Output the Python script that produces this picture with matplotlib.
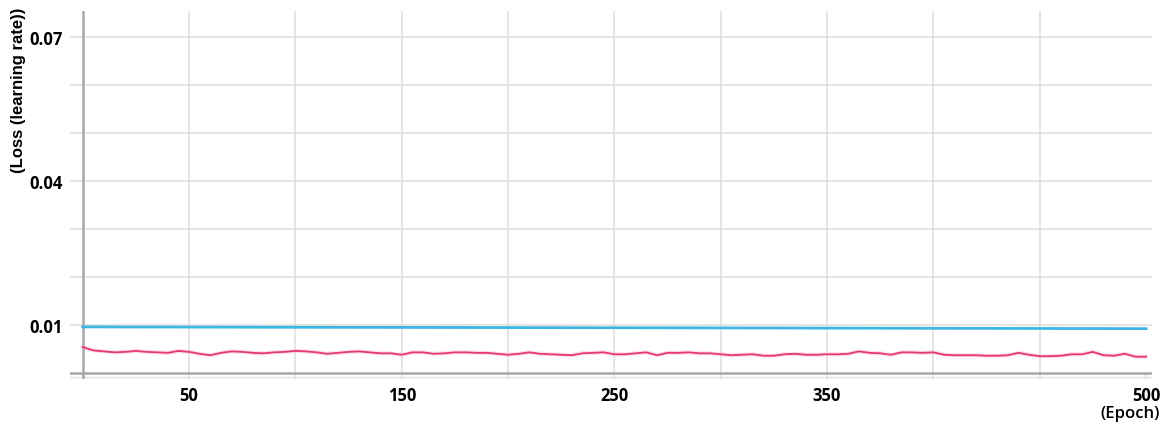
import numpy as np
import matplotlib.pyplot as plt

# epochs sampled every 5
epochs = list(range(0, 505, 5))

# training loss (smoothed curve)
loss = [
    0.0054, 0.0047, 0.0045, 0.0043, 0.0044, 0.0046, 0.0044, 0.0043, 0.0042, 0.0046,
    0.0044, 0.0040, 0.0037, 0.0042, 0.0045, 0.0044, 0.0042, 0.0041, 0.0043, 0.0044,
    0.0046, 0.0045, 0.0043, 0.0040, 0.0042, 0.0044, 0.0045, 0.0043, 0.0041, 0.0041,
    0.0038, 0.0043, 0.0043, 0.0040, 0.0041, 0.0043, 0.0043, 0.0042, 0.0042, 0.0040,
    0.0038, 0.0040, 0.0043, 0.0040, 0.0039, 0.0038, 0.0037, 0.0041, 0.0042, 0.0043,
    0.0039, 0.0039, 0.0041, 0.0043, 0.0037, 0.0042, 0.0042, 0.0043, 0.0041, 0.0041,
    0.0039, 0.0037, 0.0038, 0.0039, 0.0036, 0.0036, 0.0039, 0.0040, 0.0038, 0.0038,
    0.0039, 0.0039, 0.0040, 0.0045, 0.0042, 0.0041, 0.0038, 0.0043, 0.0043, 0.0042,
    0.0043, 0.0038, 0.0037, 0.0037, 0.0037, 0.0036, 0.0036, 0.0037, 0.0042, 0.0038,
    0.0035, 0.0035, 0.0036, 0.0039, 0.0039, 0.0044, 0.0037, 0.0036, 0.0040, 0.0034,
    0.0034,
]

# learning rate, decaying slowly
lr_epochs = [0, 100, 200, 300, 400, 500]
lr = [0.00960, 0.00953, 0.00946, 0.00939, 0.00931, 0.00924]

ytick_vals = [0.07, 0.04, 0.01]
ytick_labels = ['0.07', '0.04', '0.01']
xtick_vals = [50, 150, 250, 350, 500]
xtick_labels = ['50', '150', '250', '350', '500']

fig = plt.figure(figsize=(11.72, 4.27), dpi=100)
ax = fig.add_axes([70 / 1172, 1 - 380 / 427, 1082 / 1172, 368 / 427])
ax.set_xlim(-6, 502.8)
ax.set_ylim(-0.00125, 0.0754)

for s in ax.spines.values():
    s.set_visible(False)

# light grid
for yv in np.arange(0.01, 0.075, 0.01):
    ax.axhline(yv, color='#dedede', lw=1.1, zorder=0)
for xv in range(50, 500, 50):
    ax.axvline(xv, color='#dedede', lw=1.1, zorder=0)
ax.plot([500, 500], [-0.00125, -0.0002], color='#dedede', lw=1.1, zorder=0)

# darker axis lines
ax.axhline(0, color='#a8a8a8', lw=1.8, zorder=1)
ax.axhline(-0.0009, color='#e2e2e2', lw=1.0, zorder=1)
ax.axvline(0, color='#a8a8a8', lw=1.8, zorder=1)

ax.plot(lr_epochs, lr, color='#3cb6e3', lw=2, zorder=3)
ax.plot(epochs, loss, color='#f4a6bd', lw=3, alpha=0.35, zorder=2)
ax.plot(epochs, loss, color='#e6396c', lw=1.3, zorder=3)

ax.tick_params(length=0)
ax.tick_params(axis='y', pad=5)
ax.tick_params(axis='x', pad=5)
ax.set_yticks(ytick_vals)
ax.set_yticklabels(ytick_labels, fontsize=12, fontweight='bold', family='Open Sans')
ax.set_xticks(xtick_vals)
ax.set_xticklabels(xtick_labels, fontsize=12, fontweight='bold', family='Open Sans')

fig.text(1130 / 1172, 1 - 414 / 427, '(Epoch)', ha='center', va='center',
         fontsize=12, fontweight='semibold', family='Open Sans')
fig.text(19 / 1172, 1 - 90 / 427, '(Loss (learning rate))', ha='center', va='center',
         rotation=90, fontsize=12, fontweight='bold', family='Liberation Sans')

fig.savefig('out.png', dpi=100)
